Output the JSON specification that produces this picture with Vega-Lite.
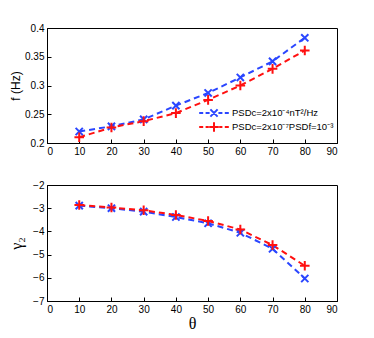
{
  "$schema": "https://vega.github.io/schema/vega-lite/v6.json",
  "background": "white",
  "padding": {"left": 8, "top": 22, "right": 5, "bottom": 2},
  "spacing": 22,
  "config": {
    "view": {"stroke": "black", "strokeWidth": 1},
    "axis": {"grid": false, "domainColor": "black", "tickColor": "black", "labelColor": "black", "labelFont": "Liberation Sans", "labelFontSize": 10, "tickSize": -4, "labelPadding": 7, "titleColor": "black", "titleFontWeight": "normal", "titleFont": "Liberation Sans"}
  },
  "datasets": {
    "d": [
      {"theta": 10, "f": 0.220, "gamma": -2.89, "series": "PSDc=2x10⁻⁴nT²/Hz"},
      {"theta": 20, "f": 0.229, "gamma": -3.00, "series": "PSDc=2x10⁻⁴nT²/Hz"},
      {"theta": 30, "f": 0.241, "gamma": -3.15, "series": "PSDc=2x10⁻⁴nT²/Hz"},
      {"theta": 40, "f": 0.265, "gamma": -3.38, "series": "PSDc=2x10⁻⁴nT²/Hz"},
      {"theta": 50, "f": 0.287, "gamma": -3.65, "series": "PSDc=2x10⁻⁴nT²/Hz"},
      {"theta": 60, "f": 0.314, "gamma": -4.06, "series": "PSDc=2x10⁻⁴nT²/Hz"},
      {"theta": 70, "f": 0.342, "gamma": -4.75, "series": "PSDc=2x10⁻⁴nT²/Hz"},
      {"theta": 80, "f": 0.383, "gamma": -6.03, "series": "PSDc=2x10⁻⁴nT²/Hz"},
      {"theta": 10, "f": 0.210, "gamma": -2.86, "series": "PSDc=2x10⁻⁷PSDf=10⁻³"},
      {"theta": 20, "f": 0.227, "gamma": -2.97, "series": "PSDc=2x10⁻⁷PSDf=10⁻³"},
      {"theta": 30, "f": 0.238, "gamma": -3.09, "series": "PSDc=2x10⁻⁷PSDf=10⁻³"},
      {"theta": 40, "f": 0.252, "gamma": -3.29, "series": "PSDc=2x10⁻⁷PSDf=10⁻³"},
      {"theta": 50, "f": 0.275, "gamma": -3.55, "series": "PSDc=2x10⁻⁷PSDf=10⁻³"},
      {"theta": 60, "f": 0.300, "gamma": -3.92, "series": "PSDc=2x10⁻⁷PSDf=10⁻³"},
      {"theta": 70, "f": 0.329, "gamma": -4.59, "series": "PSDc=2x10⁻⁷PSDf=10⁻³"},
      {"theta": 80, "f": 0.361, "gamma": -5.48, "series": "PSDc=2x10⁻⁷PSDf=10⁻³"}
    ]
  },
  "vconcat": [
    {
      "width": 290,
      "height": 115,
      "data": {"name": "d"},
      "encoding": {
        "x": {"field": "theta", "type": "quantitative", "scale": {"domain": [0, 90], "nice": false}, "axis": {"values": [0, 10, 20, 30, 40, 50, 60, 70, 80, 90], "title": null}},
        "y": {"field": "f", "type": "quantitative", "scale": {"domain": [0.2, 0.4], "nice": false, "zero": false}, "axis": {"values": [0.2, 0.25, 0.3, 0.35, 0.4], "format": "~g", "title": "f (Hz)", "titleFontSize": 12, "titlePadding": 2}}
      },
      "layer": [
        {
          "mark": {"type": "point", "opacity": 0, "filled": false, "size": 64, "strokeWidth": 2},
          "encoding": {
            "color": {"field": "series", "type": "nominal", "scale": {"domain": ["PSDc=2x10⁻⁴nT²/Hz", "PSDc=2x10⁻⁷PSDf=10⁻³"], "range": ["#2a46ff", "#ff1010"]},
              "legend": {"title": null, "orient": "none", "legendX": 162, "legendY": 80, "padding": 0, "symbolSize": 64, "symbolStrokeWidth": 2, "symbolOpacity": 1, "symbolFillColor": "transparent", "labelFont": "Liberation Sans", "labelFontSize": 9.5, "labelColor": "black", "labelOffset": 13, "rowPadding": -3}},
            "shape": {"field": "series", "type": "nominal", "scale": {"domain": ["PSDc=2x10⁻⁴nT²/Hz", "PSDc=2x10⁻⁷PSDf=10⁻³"], "range": ["M-3.7,0L-2.7,0M-2.1,0L-1.1,0M1.1,0L2.1,0M2.7,0L3.7,0M-0.9,-0.9L0.9,0.9M-0.9,0.9L0.9,-0.9", "M-3.7,0L-2.7,0M-2.1,0L-1.3,0M1.3,0L2.1,0M2.7,0L3.7,0M-1.2,0L1.2,0M0,-1.2L0,1.2"]},
              "legend": {"title": null, "orient": "none", "legendX": 162, "legendY": 80, "padding": 0, "symbolSize": 64, "symbolStrokeWidth": 2, "symbolOpacity": 1, "symbolFillColor": "transparent", "labelFont": "Liberation Sans", "labelFontSize": 9.5, "labelColor": "black", "labelOffset": 13, "rowPadding": -3}}
          }
        },
        {
          "mark": {"type": "line", "strokeDash": [6, 4], "strokeWidth": 2},
          "encoding": {"color": {"field": "series", "type": "nominal", "legend": null}}
        },
        {
          "mark": {"type": "point", "filled": false, "size": 64, "strokeWidth": 2, "opacity": 1},
          "encoding": {
            "color": {"field": "series", "type": "nominal", "legend": null},
            "shape": {"condition": {"test": "datum.series === 'PSDc=2x10⁻⁴nT²/Hz'", "value": "M-0.9,-0.9L0.9,0.9M-0.9,0.9L0.9,-0.9"}, "value": "M-1.2,0L1.2,0M0,-1.2L0,1.2"}
          }
        }
      ]
    },
    {
      "width": 290,
      "height": 116,
      "data": {"name": "d"},
      "encoding": {
        "x": {"field": "theta", "type": "quantitative", "scale": {"domain": [0, 90], "nice": false}, "axis": {"values": [0, 10, 20, 30, 40, 50, 60, 70, 80, 90], "title": "θ", "titleFont": "Liberation Serif", "titleFontSize": 16, "titlePadding": 1}},
        "y": {"field": "gamma", "type": "quantitative", "scale": {"domain": [-7, -2], "nice": false, "zero": false}, "axis": {"values": [-7, -6, -5, -4, -3, -2], "title": "γ₂", "titleFont": "Liberation Serif", "titleFontSize": 16, "titlePadding": 8}}
      },
      "layer": [
        {
          "mark": {"type": "line", "strokeDash": [6, 4], "strokeWidth": 2},
          "encoding": {"color": {"field": "series", "type": "nominal", "scale": {"domain": ["PSDc=2x10⁻⁴nT²/Hz", "PSDc=2x10⁻⁷PSDf=10⁻³"], "range": ["#2a46ff", "#ff1010"]}, "legend": null}}
        },
        {
          "mark": {"type": "point", "filled": false, "size": 64, "strokeWidth": 2, "opacity": 1},
          "encoding": {
            "color": {"field": "series", "type": "nominal", "legend": null},
            "shape": {"condition": {"test": "datum.series === 'PSDc=2x10⁻⁴nT²/Hz'", "value": "M-0.9,-0.9L0.9,0.9M-0.9,0.9L0.9,-0.9"}, "value": "M-1.2,0L1.2,0M0,-1.2L0,1.2"}
          }
        }
      ]
    }
  ]
}
